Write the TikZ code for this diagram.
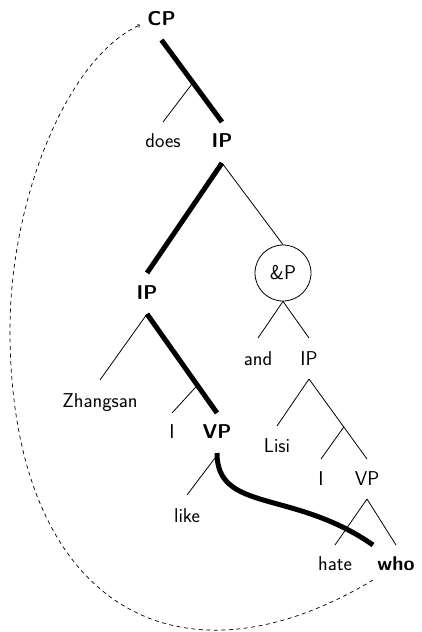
\documentclass[tikz,border=0pt]{standalone}
\usetikzlibrary{calc}
\begin{document}
\begin{tikzpicture}[x=1pt,y=-1pt,
  lab/.style={font=\sffamily\fontsize{20}{24}\selectfont, inner sep=0pt, anchor=base},
  blab/.style={lab, font=\sffamily\bfseries\fontsize{20}{24}\selectfont},
  branch/.style={line width=0.8pt},
  move/.style={line width=5pt},
  trace/.style={dashed, dash pattern=on 4pt off 3.5pt, line width=0.7pt, ->}
]
\useasboundingbox (0,0) rectangle (421,632);
% nodes
\node[blab] (CP) at (161.5,25) {CP};
\node[lab] (does) at (163,147) {does};
\node[blab] (IP1) at (222,147) {IP};
\node[blab] (IP2) at (147,299) {IP};
\node[circle, draw, line width=0.8pt, minimum size=56pt, inner sep=0pt,
      font=\sffamily\fontsize{20}{24}\selectfont] (andP) at (283,273) {\&P};
\node[lab] (and) at (258,365) {and};
\node[lab] (IP3) at (309,365) {IP};
\node[lab] (Zh) at (100,407) {Zhangsan};
\node[lab] (I1) at (172,438) {I};
\node[blab] (VP1) at (217,438) {VP};
\node[lab] (Lisi) at (277,452) {Lisi};
\node[lab] (I2) at (321,485) {I};
\node[lab] (VP2) at (367,485) {VP};
\node[lab] (like) at (187,522) {like};
\node[lab] (hate) at (335,570) {hate};
\node[blab] (who) at (396,570) {who};
\coordinate (bend) at (10,330);
% branches
\draw[move] ([yshift=-15pt]CP.base) coordinate (cp0) -- ([yshift=25pt]IP1.base) coordinate (cp1);
\draw[branch] ($(cp0)!0.52!(cp1)$) -- ([yshift=25pt]does.base);
\draw[move] ([yshift=-16pt]IP1.base) -- ([yshift=26pt]IP2.base);
\draw[branch] ([yshift=-16pt]IP1.base) -- (andP.north);
\draw[branch] (andP.south) -- ([yshift=27pt]and.base);
\draw[branch] (andP.south) -- ([yshift=27pt]IP3.base);
\draw[branch] ([yshift=-15pt]IP2.base) -- ([yshift=27pt]Zh.base);
\draw[move] ([yshift=-15pt]IP2.base) coordinate (ip0) -- ([yshift=25pt]VP1.base) coordinate (ip1);
\draw[branch] ($(ip0)!0.72!(ip1)$) -- ([yshift=25pt]I1.base);
\draw[branch] ([yshift=-14pt]IP3.base) -- ([yshift=26pt]Lisi.base);
\draw[branch] ([yshift=-14pt]IP3.base) coordinate (r0) -- ([yshift=26pt]VP2.base) coordinate (r1);
\draw[branch] ($(r0)!0.6!(r1)$) -- ([yshift=26pt]I2.base);
\draw[branch] ([yshift=-14pt]VP2.base) -- ([yshift=25pt]hate.base);
\draw[branch] ([yshift=-14pt]VP2.base) -- ([yshift=25pt]who.base);
\draw[branch] ([xshift=-2pt,yshift=-20pt]VP1.base) -- ([yshift=27pt]like.base);
% movement
\draw[move] ([yshift=-15pt]VP1.base) .. controls +(0,60) and +(-80,-56) .. ([xshift=-23pt,yshift=25pt]who.base);
\draw[trace] ([xshift=-23pt,yshift=-10pt]who.base) .. controls +(-200,120) and +(0,270) .. (bend)
   .. controls +(0,-132) and +(-72,32) .. ([xshift=-21.5pt]CP.base);
\end{tikzpicture}
\end{document}
